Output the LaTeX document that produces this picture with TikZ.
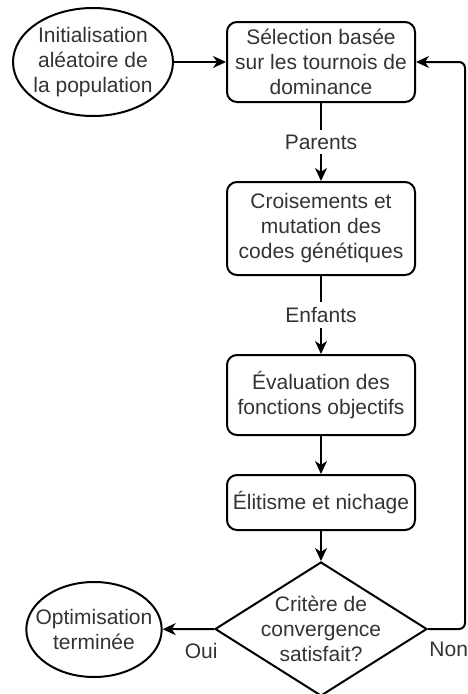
\documentclass[tikz,border=0pt]{standalone}
\usepackage{fontspec}
\setmainfont{Liberation Sans}
\usetikzlibrary{shapes.geometric,arrows.meta,positioning}
\definecolor{texte}{HTML}{333333}
\tikzset{
    every node/.append style={
        text=texte,
        font=\fontsize{21}{25}\selectfont,
        align=center,
    },
    etape/.style={
        draw=black,
        line width=2pt,
        rounded corners=10pt,
        minimum width=188pt,
        inner sep=0pt,
    },
    terminal/.style={
        shape=ellipse,
        draw=black,
        line width=2pt,
        inner ysep=0pt,
    },
    decision/.style={
        shape=diamond,
        draw=black,
        line width=2pt,
        minimum width=212pt,
        minimum height=134pt,
        inner sep=0pt,
    },
    fleche/.style={
        draw=black,
        line width=2pt,
        -{Stealth[length=13pt,width=12pt,inset=4pt]},
    },
    lien/.style={
        fill=white,
        inner sep=5pt,
    }
}
\begin{document}
\begin{tikzpicture}[x=1pt,y=-1pt]
    \useasboundingbox (0,0) rectangle (467,694);

    \node[terminal, inner xsep=-3pt, minimum height=108pt] (init) at (93,62)
        {Initialisation\\aléatoire de\\la population};
    \node[etape, minimum height=80pt] (selection) at (321,62)
        {Sélection basée\\sur les tournois de\\dominance};
    \node[etape, minimum height=93pt] (croisement) at (321,228.5)
        {Croisements et\\mutation des\\codes génétiques};
    \node[etape, minimum height=80pt] (evaluation) at (321,395)
        {Évaluation des\\fonctions objectifs};
    \node[etape, minimum height=55pt] (elitisme) at (321,502.5)
        {Élitisme et nichage};
    \node[decision] (critere) at (321,629) {};
    \node (critereTexte) at (critere) {Critère de\\convergence\\satisfait?};
    \node[terminal, inner xsep=-10.5pt, minimum height=95pt] (fin) at (94,629.5)
        {Optimisation\\terminée};
    \coordinate (retour) at (465,62);

    \draw[fleche] (init) -- (selection);
    \draw[fleche] (selection) -- node[lien] {Parents} (croisement);
    \draw[fleche] (croisement) -- node[lien] {Enfants} (evaluation);
    \draw[fleche] (evaluation) -- (elitisme);
    \draw[fleche] (elitisme) -- (critere);
    \draw[fleche] (critere.west) -- node[pos=0.25, below=10pt] {Oui} (fin);
    % boucle de retour vers la selection
    \draw[fleche, rounded corners=6pt] (critere.east) -| node[pos=0.28, below=9pt] {Non} (retour) -- (selection.east);
\end{tikzpicture}
\end{document}
